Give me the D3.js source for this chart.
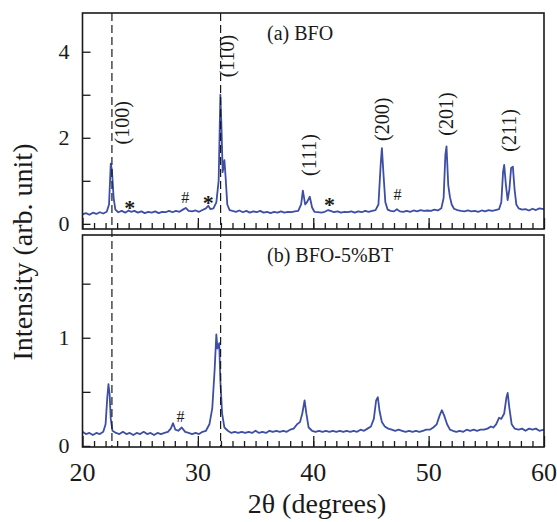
<!DOCTYPE html>
<html>
<head>
<meta charset="utf-8">
<title>XRD patterns BFO / BFO-5%BT</title>
<script src="https://cdn.jsdelivr.net/npm/d3@7"></script>
<style>
  body { margin: 0; background: #fff; }
</style>
</head>
<body>
<svg id="svg"></svg>
<script>
// ---- data ----
// (a) BFO : [2theta, intensity]
var bfo = [[20.0,0.22],[20.3,0.25],[20.6,0.21],[20.9,0.26],[21.2,0.23],[21.5,0.27],[21.8,0.24],[22.1,0.28],[22.3,0.45],[22.45,1.4],[22.55,1.25],[22.7,0.6],[22.85,0.33],
  [23.1,0.27],[23.4,0.3],[23.7,0.26],[24.0,0.31],[24.2,0.28],[24.5,0.3],[24.8,0.26],[25.1,0.29],[25.4,0.25],[25.7,0.28],[26.0,0.26],[26.3,0.29],[26.6,0.25],[26.9,0.28],
  [27.2,0.27],[27.5,0.3],[27.8,0.27],[28.1,0.3],[28.4,0.28],[28.7,0.33],[28.95,0.37],[29.2,0.3],[29.5,0.29],[29.8,0.31],[30.1,0.28],[30.4,0.32],[30.7,0.36],[30.9,0.42],
  [31.1,0.34],[31.35,0.36],[31.6,0.5],[31.8,1.0],[31.95,3.0],[32.05,2.2],[32.15,1.2],[32.3,1.48],[32.4,1.1],[32.55,0.45],[32.75,0.32],[33.0,0.3],[33.3,0.28],[33.6,0.31],
  [33.9,0.27],[34.2,0.3],[34.5,0.26],[34.8,0.29],[35.1,0.27],[35.4,0.3],[35.7,0.26],[36.0,0.28],[36.3,0.25],[36.6,0.28],[36.9,0.26],[37.2,0.29],[37.5,0.26],[37.8,0.28],
  [38.1,0.27],[38.4,0.29],[38.7,0.3],[38.95,0.45],[39.1,0.77],[39.3,0.45],[39.45,0.5],[39.7,0.63],[39.9,0.38],[40.1,0.28],[40.4,0.27],[40.7,0.26],[41.0,0.28],[41.3,0.32],
  [41.5,0.3],[41.8,0.27],[42.1,0.29],[42.4,0.26],[42.7,0.28],[43.0,0.27],[43.3,0.29],[43.6,0.26],[43.9,0.29],[44.2,0.27],[44.5,0.3],[44.8,0.28],[45.1,0.3],[45.4,0.32],
  [45.65,0.45],[45.85,1.4],[45.95,1.76],[46.1,1.1],[46.25,0.5],[46.45,0.33],[46.7,0.3],[47.0,0.29],[47.25,0.34],[47.5,0.29],[47.8,0.28],[48.1,0.3],[48.4,0.28],[48.7,0.31],
  [49.0,0.29],[49.3,0.32],[49.6,0.3],[49.9,0.31],[50.2,0.3],[50.5,0.33],[50.8,0.31],[51.1,0.36],[51.3,0.6],[51.45,1.6],[51.55,1.8],[51.7,0.9],[51.85,0.62],[52.0,0.45],
  [52.2,0.35],[52.5,0.32],[52.8,0.3],[53.1,0.29],[53.4,0.31],[53.7,0.29],[54.0,0.3],[54.3,0.28],[54.6,0.31],[54.9,0.29],[55.2,0.32],[55.5,0.3],[55.8,0.32],[56.1,0.34],
  [56.3,0.5],[56.45,1.2],[56.55,1.37],[56.7,0.9],[56.85,0.55],[57.0,0.8],[57.15,1.3],[57.3,1.33],[57.45,0.8],[57.6,0.45],[57.8,0.36],[58.1,0.33],[58.4,0.34],[58.7,0.31],
  [59.0,0.35],[59.3,0.32],[59.6,0.36],[60.0,0.34]];

// (b) BFO-5%BT
var bfobt = [[20.0,0.13],[20.3,0.11],[20.6,0.12],[20.9,0.1],[21.2,0.12],[21.5,0.11],[21.8,0.13],[22.0,0.2],[22.15,0.45],[22.25,0.57],[22.35,0.48],[22.45,0.25],[22.6,0.14],
  [22.9,0.12],[23.2,0.11],[23.5,0.13],[23.8,0.11],[24.1,0.12],[24.4,0.1],[24.7,0.12],[25.0,0.11],[25.3,0.13],[25.6,0.11],[25.9,0.12],[26.2,0.1],[26.5,0.12],[26.8,0.11],
  [27.1,0.12],[27.4,0.13],[27.65,0.16],[27.85,0.21],[28.05,0.15],[28.3,0.14],[28.6,0.17],[28.9,0.13],[29.2,0.12],[29.5,0.11],[29.8,0.12],[30.1,0.11],[30.4,0.13],[30.7,0.14],
  [31.0,0.2],[31.25,0.35],[31.45,0.7],[31.6,1.03],[31.7,0.9],[31.85,0.95],[31.95,0.6],[32.1,0.3],[32.3,0.17],[32.6,0.14],[32.9,0.12],[33.2,0.13],[33.5,0.12],[33.8,0.13],
  [34.1,0.12],[34.4,0.13],[34.7,0.12],[35.0,0.14],[35.3,0.12],[35.6,0.13],[35.9,0.12],[36.2,0.14],[36.5,0.13],[36.8,0.14],[37.1,0.13],[37.4,0.14],[37.7,0.13],[38.0,0.15],
  [38.3,0.16],[38.6,0.2],[38.85,0.22],[39.05,0.3],[39.25,0.42],[39.4,0.3],[39.6,0.17],[39.9,0.14],[40.2,0.13],[40.5,0.14],[40.8,0.13],[41.1,0.14],[41.4,0.13],[41.7,0.14],
  [42.0,0.13],[42.3,0.14],[42.6,0.13],[42.9,0.14],[43.2,0.13],[43.5,0.14],[43.8,0.13],[44.1,0.15],[44.4,0.14],[44.7,0.16],[45.0,0.18],[45.25,0.25],[45.45,0.42],[45.6,0.45],
  [45.75,0.32],[45.95,0.22],[46.2,0.18],[46.5,0.16],[46.8,0.15],[47.1,0.14],[47.4,0.15],[47.7,0.14],[48.0,0.13],[48.3,0.14],[48.6,0.13],[48.9,0.14],[49.2,0.13],[49.5,0.14],
  [49.8,0.15],[50.1,0.15],[50.4,0.17],[50.7,0.2],[50.95,0.28],[51.15,0.33],[51.35,0.28],[51.6,0.2],[51.85,0.15],[52.1,0.14],[52.4,0.13],[52.7,0.14],[53.0,0.13],[53.3,0.15],
  [53.6,0.14],[53.9,0.15],[54.2,0.14],[54.5,0.15],[54.8,0.15],[55.1,0.16],[55.4,0.18],[55.6,0.17],[55.85,0.2],[56.1,0.26],[56.3,0.25],[56.55,0.3],[56.75,0.45],[56.85,0.49],
  [57.0,0.35],[57.2,0.2],[57.45,0.16],[57.8,0.15],[58.1,0.16],[58.4,0.14],[58.7,0.16],[59.0,0.15],[59.3,0.16],[59.6,0.14],[60.0,0.15]];

var xTicks = [20, 30, 40, 50, 60];
var yTicksA = [0, 2, 4], yMinorA = [1, 3];
var yTicksB = [0, 1], yMinorB = [0.5, 1.5];
var refLines = [22.55, 31.97];   // dashed guide lines
// hkl labels: [text, 2theta, intensity at label centre]
var hklLabels = [["(100)", 23.4, 2.35], ["(110)", 32.5, 3.9], ["(111)", 39.6, 1.6], ["(200)", 46.0, 2.43],
                 ["(201)", 51.5, 2.55], ["(211)", 57.0, 2.17]];
// impurity marks: [symbol, 2theta, intensity]
var marksA = [["*", 24.1, 0.44], ["#", 28.9, 0.62], ["*", 30.9, 0.55], ["*", 41.4, 0.51], ["#", 47.3, 0.69]];
var marksB = [["#", 28.5, 0.27]];

var width = 557, height = 522;
var left = 82.5, right = 544;
var panA = {top: 13, bottom: 229}, panB = {top: 235, bottom: 447};
var blue = "#3c4ea6";
var serif = "'Liberation Serif', 'Times New Roman', Times, serif";

var svg = d3.select("#svg").attr("width", width).attr("height", height)
    .style("font-family", serif);

var x = d3.scaleLinear().domain([20, 60]).range([left, right]);
var yA = d3.scaleLinear().domain([-0.12, 4.9]).range([panA.bottom, panA.top]);
var yB = d3.scaleLinear().domain([-0.01, 1.95]).range([panB.bottom, panB.top]);

function txt(sel) {
    return sel.style("font-family", serif).attr("fill", "#1a1a1a");
}

function drawPanel(p, y, data, major, minor, marks, title, id) {
    svg.append("clipPath").attr("id", id)
        .append("rect").attr("x", left).attr("y", p.top)
        .attr("width", right - left).attr("height", p.bottom - p.top);

    var line = d3.line().x(function(d) { return x(d[0]); }).y(function(d) { return y(d[1]); });
    svg.append("path").datum(data)
        .attr("clip-path", "url(#" + id + ")")
        .attr("d", line)
        .attr("fill", "none").attr("stroke", blue).attr("stroke-width", 1.8)
        .attr("stroke-linejoin", "round");

    // x ticks, inward
    var gx = svg.append("g").attr("transform", "translate(0," + p.bottom + ")");
    gx.call(d3.axisBottom(x).tickValues(d3.range(21, 60)).tickSize(-6).tickFormat(""));
    gx.append("g").call(d3.axisBottom(x).tickValues(xTicks).tickSize(-11).tickFormat(""));
    gx.selectAll(".domain").remove();
    gx.selectAll("line").attr("stroke", "#1a1a1a").attr("stroke-width", 1.3);

    // y ticks, inward
    var gy = svg.append("g").attr("transform", "translate(" + left + ",0)");
    gy.call(d3.axisLeft(y).tickValues(major.concat(minor)).tickSize(-8).tickFormat(""));
    gy.selectAll(".domain").remove();
    gy.selectAll("line").attr("stroke", "#1a1a1a").attr("stroke-width", 1.3);

    svg.selectAll(".ylab" + id).data(major).enter().append("text")
        .call(txt)
        .attr("x", left - 13).attr("y", function(d) { return y(d); })
        .attr("dy", "0.34em")
        .style("text-anchor", "end").style("font-size", "22px")
        .text(function(d) { return d; });

    svg.append("rect").attr("x", left).attr("y", p.top)
        .attr("width", right - left).attr("height", p.bottom - p.top)
        .attr("fill", "none").attr("stroke", "#1a1a1a").attr("stroke-width", 1.6);

    svg.append("text").call(txt).attr("x", 267).attr("y", p.top + 27)
        .style("font-size", "20px").text(title);

    svg.selectAll(".mk" + id).data(marks).enter().append("text")
        .call(txt)
        .attr("x", function(d) { return x(d[1]); })
        .attr("y", function(d) { return y(d[2]); })
        .attr("dy", function(d) { return d[0] == "*" ? "0.46em" : "0.34em"; })
        .style("text-anchor", "middle")
        .style("font-size", function(d) { return d[0] == "*" ? "22px" : "16px"; })
        .style("font-weight", function(d) { return d[0] == "*" ? "bold" : "normal"; })
        .text(function(d) { return d[0]; });
}

drawPanel(panA, yA, bfo, yTicksA, yMinorA, marksA, "(a) BFO", "cA");
drawPanel(panB, yB, bfobt, yTicksB, yMinorB, marksB, "(b) BFO-5%BT", "cB");

// dashed guides through both panels
svg.selectAll(".guide").data(refLines).enter().append("line")
    .attr("x1", function(d) { return x(d); }).attr("x2", function(d) { return x(d); })
    .attr("y1", panA.top).attr("y2", panB.bottom)
    .attr("stroke", "#1a1a1a").attr("stroke-width", 1.2).attr("stroke-dasharray", "8,4");

// hkl labels, rotated
svg.selectAll(".hkl").data(hklLabels).enter().append("text")
    .call(txt)
    .attr("transform", function(d) { return "translate(" + x(d[1]) + "," + yA(d[2]) + ")rotate(-90)"; })
    .attr("dy", "0.35em")
    .style("text-anchor", "middle").style("font-size", "20px")
    .text(function(d) { return d[0]; });

// x tick labels
svg.selectAll(".xlab").data(xTicks).enter().append("text")
    .call(txt)
    .attr("x", function(d) { return x(d); }).attr("y", 481)
    .style("text-anchor", "middle").style("font-size", "26px")
    .text(function(d) { return d; });

// axis titles
svg.append("text").call(txt).attr("x", 317).attr("y", 513)
    .style("text-anchor", "middle").style("font-size", "28px")
    .text("2\u03b8 (degrees)");

svg.append("text").call(txt)
    .attr("transform", "translate(32,252)rotate(-90)")
    .style("text-anchor", "middle").style("font-size", "28px")
    .text("Intensity (arb. unit)");
</script>
</body>
</html>
